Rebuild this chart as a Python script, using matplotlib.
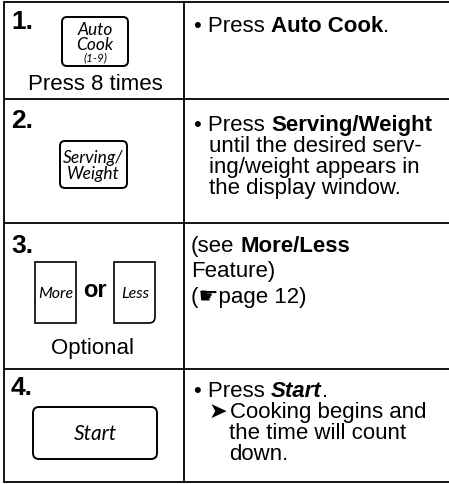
import matplotlib
matplotlib.use('Agg')
import matplotlib.pyplot as plt
from matplotlib.patches import FancyBboxPatch, PathPatch
from matplotlib.path import Path

# ---- content -------------------------------------------------------------
steps = ['1.', '2.', '3.', '4.']
left_notes = ['Press 8 times', '', 'Optional', '']
auto_cook_lines = ['Auto', 'Cook', '(1-9)']
serving_lines = ['Serving/', 'Weight']
more_less = ['More', 'Less']
or_word = 'or'
start_label = 'Start'

# each line: list of (text, style) with r=regular, b=bold, bi=bold italic
right_text = [
    [[('• Press ', 'r'), ('Auto Cook', 'b'), ('.', 'r')]],
    [[('• Press ', 'r'), ('Serving/Weight', 'b')],
     [('until the desired serv-', 'r')],
     [('ing/weight appears in', 'r')],
     [('the display window.', 'r')]],
    [[('(see ', 'r'), ('More/Less', 'b')],
     [('Feature)', 'r')],
     [('(\u261bpage 12)', 'r')]],
    [[('• Press ', 'r'), ('Start', 'bi'), ('.', 'r')],
     [('\u27a4', 'r'), ('Cooking begins and', 'r')],
     [('the time will count', 'r')],
     [('down.', 'r')]],
]

# ---- layout --------------------------------------------------------------
W, H = 449, 485
SANS = ['Liberation Sans', 'DejaVu Sans']
BTN = ['Lato', 'DejaVu Sans']
BODY = 16
row_edges = [2.5, 100, 224, 370, 483]
col_x = [4, 184]
step_base = [29, 128, 253, 395]
first_base = [32, 131, 252, 397]
line_gap = [21, 21, 25.5, 21]
line_x = [[194], [194, 209, 209, 209], [191, 191, 191], [194, 209, 229, 229]]

fig = plt.figure(figsize=(W / 100, H / 100), dpi=100)
ax = fig.add_axes([0, 0, 1, 1])
ax.set_xlim(0, W)
ax.set_ylim(H, 0)
ax.axis('off')
renderer = fig.canvas.get_renderer()

LW = 1.3
for y in row_edges:
    ax.plot([col_x[0], W], [y, y], color='k', lw=LW, solid_capstyle='butt')
for x in col_x:
    ax.plot([x, x], [row_edges[0], row_edges[-1]], color='k', lw=LW)

STYLES = {'r': dict(weight='normal', style='normal'),
          'b': dict(weight='bold', style='normal'),
          'bi': dict(weight='bold', style='italic')}


def text_w(s, **kw):
    t = ax.text(0, 0, s, family=SANS, fontsize=BODY, **kw)
    w = t.get_window_extent(renderer).width
    t.remove()
    return w


space_w = text_w('n n') - text_w('nn')


def put_line(x, y, parts):
    for txt, st in parts:
        kw = STYLES[st]
        lead = len(txt) - len(txt.lstrip(' '))
        trail = len(txt) - len(txt.rstrip(' '))
        x += lead * space_w
        core = txt.strip(' ')
        t = ax.text(x, y, core, family=SANS, fontsize=BODY, va='baseline', **kw)
        x += t.get_window_extent(renderer).width + trail * space_w
        if core == '\u27a4':
            x += 2


# right column
for r, lines in enumerate(right_text):
    for i, parts in enumerate(lines):
        put_line(line_x[r][i], first_base[r] + i * line_gap[r], parts)

# step numbers
for s, y in zip(steps, step_base):
    ax.text(11, y, s, family=SANS, fontsize=19, weight='bold', va='baseline')

# notes under buttons
ax.text(95, 90, left_notes[0], family=SANS, fontsize=BODY, ha='center', va='baseline')
ax.text(92, 354, left_notes[2], family=SANS, fontsize=BODY, ha='center', va='baseline')


def button(x0, y0, x1, y1, r=5):
    ax.add_patch(FancyBboxPatch((x0, y0), x1 - x0, y1 - y0,
                                boxstyle=f'round,pad=0,rounding_size={r}',
                                fc='white', ec='k', lw=1.4))


# Auto Cook
button(62, 18, 128, 67)
for txt, y, fs in zip(auto_cook_lines, [35, 50, 61], [12.5, 12.5, 8.5]):
    ax.text(95, y, txt, family=BTN, style='italic', fontsize=fs, ha='center', va='baseline')

# Serving/Weight
button(60, 142, 127, 189)
for txt, y in zip(serving_lines, [163, 179]):
    ax.text(93.5, y, txt, family=BTN, style='italic', fontsize=12.5, ha='center', va='baseline')

# More / Less
ax.add_patch(plt.Rectangle((35, 263), 41, 61, fc='white', ec='k', lw=1.2))
less = Path([(114, 263), (155, 263), (155, 318), (155, 324), (149, 324),
             (114, 324), (114, 263)],
            [Path.MOVETO, Path.LINETO, Path.LINETO, Path.CURVE3, Path.CURVE3,
             Path.LINETO, Path.CLOSEPOLY])
ax.add_patch(PathPatch(less, fc='white', ec='k', lw=1.2))
ax.text(56, 294, more_less[0], family=BTN, style='italic', fontsize=11.5, ha='center', va='center')
ax.text(135, 294, more_less[1], family=BTN, style='italic', fontsize=11.5, ha='center', va='center')
ax.text(95, 297, or_word, family=SANS, fontsize=17, weight='bold', ha='center', va='baseline')

# Start
button(33, 408, 157, 460, r=6)
ax.text(95, 434, start_label, family=BTN, style='italic', fontsize=15, ha='center', va='center')

fig.savefig('out.png', dpi=100)
